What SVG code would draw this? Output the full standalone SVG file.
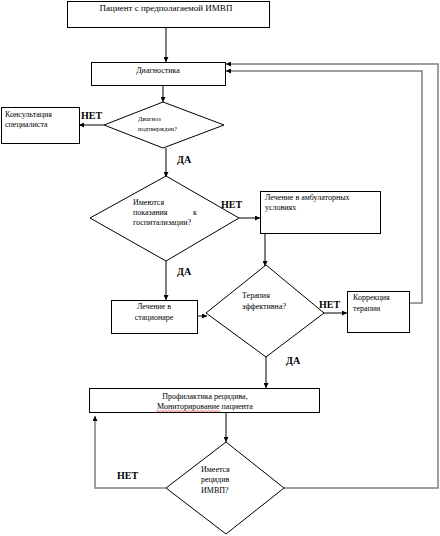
<svg xmlns="http://www.w3.org/2000/svg" width="440" height="536" viewBox="0 0 440 536">
<style>
.box{fill:#fff;stroke:#000;stroke-width:1}
.t{font-family:"Liberation Serif","Times New Roman",serif;font-size:8px;fill:#000}
.ts{font-family:"Liberation Serif","Times New Roman",serif;font-size:6.5px;fill:#000}
.t9{font-family:"Liberation Serif","Times New Roman",serif;font-size:9px;fill:#000}
.lb{font-family:"Liberation Serif","Times New Roman",serif;font-size:10px;font-weight:bold;fill:#000}
.c{fill:none;stroke:#000;stroke-width:1}
.g{fill:none;stroke:#808080;stroke-width:1.5}
</style>
<defs>
<marker id="a" viewBox="0 0 8 8" refX="8" refY="4" markerWidth="5" markerHeight="5" orient="auto" markerUnits="userSpaceOnUse">
<path d="M0,0 L8,4 L0,8 z" fill="#000"/>
</marker>
</defs>
<rect width="440" height="536" fill="#fff"/>
<g id="connectors">
<path class="c" d="M166,27 V62" marker-end="url(#a)"/>
<path class="c" d="M163,85 V102" marker-end="url(#a)"/>
<path class="c" d="M104,125 H79" marker-end="url(#a)"/>
<path class="c" d="M166,148 V177" marker-end="url(#a)"/>
<path class="c" d="M239,218 H260" marker-end="url(#a)"/>
<path class="c" d="M265,233 V266" marker-end="url(#a)"/>
<path class="c" d="M166,261 V300" marker-end="url(#a)"/>
<path class="c" d="M197,316 H207" marker-end="url(#a)"/>
<path class="c" d="M324,313 H347" marker-end="url(#a)"/>
<path class="c" d="M266,357 V388" marker-end="url(#a)"/>
<path class="c" d="M226,412 V442" marker-end="url(#a)"/>
<path class="g" d="M409,303 H422 V71 H226" marker-end="url(#a)"/>
<path class="g" d="M284,488 H438 V64 H226" marker-end="url(#a)"/>
<path class="g" d="M166,488 H95 V416" marker-end="url(#a)"/>
<text class="lb" x="81" y="119">НЕТ</text>
<text class="lb" x="177" y="163">ДА</text>
<text class="lb" x="221" y="208">НЕТ</text>
<text class="lb" x="177" y="275">ДА</text>
<text class="lb" x="319" y="308">НЕТ</text>
<text class="lb" x="286" y="364">ДА</text>
<text class="lb" x="117" y="479">НЕТ</text>
</g>
<g id="n1">
<rect class="box" x="67.5" y="1.5" width="202" height="26"/>
<text class="t9" x="166" y="11" text-anchor="middle">Пациент с предполагаемой ИМВП</text>
</g>
<g id="n2">
<rect class="box" x="91.5" y="62.5" width="134" height="23"/>
<text class="t" x="158" y="73" text-anchor="middle">Диагностика</text>
</g>
<g id="n3">
<polygon class="box" points="163,102 224,125 163,148 104,125"/>
<text class="ts" x="138" y="121">Диагноз</text>
<text class="ts" x="138" y="131">подтвержден?</text>
</g>
<g id="n4">
<rect class="box" x="1.5" y="107.5" width="78" height="36"/>
<text class="t" x="5" y="117">Консультация</text>
<text class="t" x="5" y="127">специалиста</text>
</g>
<g id="n5">
<polygon class="box" points="166,176 239,218 166,261 90,218"/>
<text class="t" x="133" y="205">Имеются</text>
<text class="t" x="133" y="215">показания</text>
<text class="t" x="193" y="215">к</text>
<text class="t" x="133" y="225">госпитализации?</text>
</g>
<g id="n6">
<rect class="box" x="260.5" y="191.5" width="120" height="42"/>
<text class="t" x="265" y="200">Лечение в амбулаторных</text>
<text class="t" x="265" y="210">условиях</text>
</g>
<g id="n7">
<rect class="box" x="111.5" y="300.5" width="86" height="33"/>
<text class="t" x="154" y="309" text-anchor="middle">Лечение в</text>
<text class="t" x="154" y="320" text-anchor="middle">стационаре</text>
</g>
<g id="n8">
<polygon class="box" points="266,265 324,313 266,357 206,313"/>
<text class="t" x="242" y="298">Терапия</text>
<text class="t" x="242" y="309">эффективна?</text>
</g>
<g id="n9">
<rect class="box" x="347.5" y="291.5" width="62" height="41"/>
<text class="t" x="353" y="300">Коррекция</text>
<text class="t" x="353" y="311">терапии</text>
</g>
<g id="n10">
<rect class="box" x="89.5" y="388.5" width="230" height="24"/>
<text class="t" x="205" y="399" text-anchor="middle">Профилактика рецидива,</text>
<text class="t" x="205" y="409" text-anchor="middle">Мониторирование пациента</text>
<path d="M156,411 q1,-1 2,0 t2,0 t2,0 t2,0 t2,0 t2,0 t2,0 t2,0 t2,0 t2,0 t2,0 t2,0 t2,0 t2,0 t2,0 t2,0 t2,0 t2,0 t2,0 t2,0 t2,0 t2,0 t2,0 t2,0 t2,0 t2,0 t2,0 t2,0 t2,0 t2,0 t2,0 t2,0" fill="none" stroke="#e02020" stroke-width="0.6"/>
</g>
<g id="n11">
<polygon class="box" points="226,442 284,488 226,534 166,488"/>
<text class="t" x="201" y="472">Имеется</text>
<text class="t" x="201" y="482">рецидив</text>
<text class="t" x="201" y="493">ИМВП?</text>
</g>
</svg>
